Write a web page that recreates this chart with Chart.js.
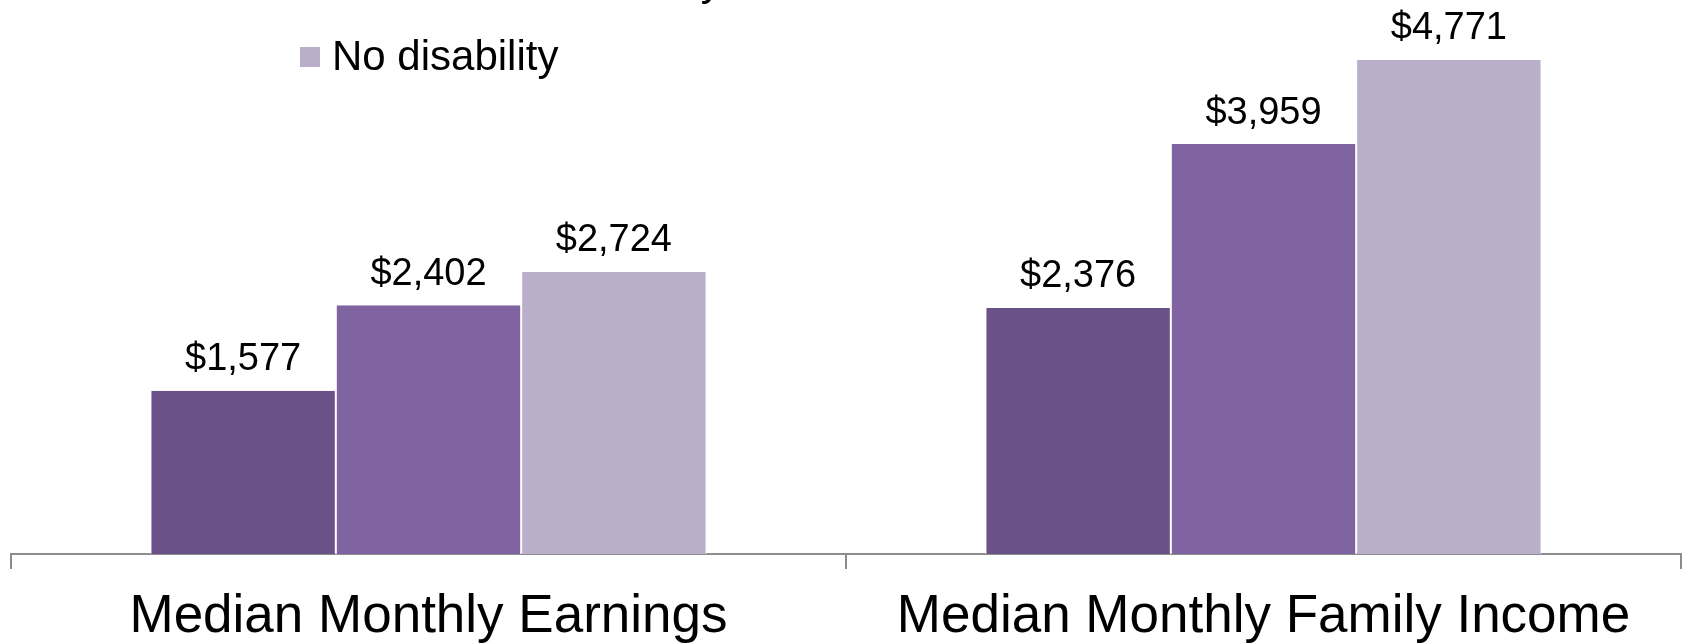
<!DOCTYPE html>
<html>
<head>
<meta charset="utf-8">
<script src="https://cdn.jsdelivr.net/npm/chart.js@4"></script>
<style>
    html, body { margin: 0; padding: 0; background: #ffffff; overflow: hidden; }
    #wrap { position: relative; width: 1683px; height: 644px; overflow: hidden; }
    #incomeChart { display: block; }
</style>
</head>
<body>
<div id="wrap"><canvas id="incomeChart" width="1683" height="648"></canvas></div>
<script>
const categories = ['Median Monthly Earnings', 'Median Monthly Family Income']
const seriesNames = ['Severe disability', 'Non-severe disability', 'No disability']
const severeValues = [1577, 2376]
const nonSevereValues = [2402, 3959]
const noDisabilityValues = [2724, 4771]
const seriesColors = ['#6A5187', '#8064A2', '#B9AFCA']

const FONT = '"Liberation Sans", Arial, sans-serif'

// Value labels above each bar, "$1,577" style
const valueLabels = {
    id: 'valueLabels',
    afterDatasetsDraw(chart) {
        const ctx = chart.ctx
        ctx.save()
        ctx.font = `38px ${FONT}`
        ctx.fillStyle = '#000000'
        ctx.textAlign = 'center'
        ctx.textBaseline = 'middle'
        chart.data.datasets.forEach((dataset, i) => {
            const meta = chart.getDatasetMeta(i)
            meta.data.forEach((bar, j) => {
                const text = '$' + dataset.data[j].toLocaleString('en-US')
                ctx.fillText(text, bar.x, bar.y - 31)
            })
        })
        ctx.restore()
    }
}

// Stacked legend floating over the plot, top items run off the top edge
const floatingLegend = {
    id: 'floatingLegend',
    afterDraw(chart) {
        const ctx = chart.ctx
        const datasets = chart.data.datasets
        ctx.save()
        ctx.font = `42px ${FONT}`
        ctx.textBaseline = 'alphabetic'
        ctx.textAlign = 'left'
        datasets.forEach((dataset, i) => {
            const baseline = 70 - (datasets.length - 1 - i) * 75
            ctx.fillStyle = dataset.backgroundColor
            ctx.fillRect(300, baseline - 23, 20, 20)
            ctx.fillStyle = '#000000'
            ctx.fillText(dataset.label, 332, baseline)
        })
        ctx.restore()
    }
}

const makeDataset = (label, data, color) => ({
    label: label,
    data: data,
    backgroundColor: color,
    borderColor: '#ffffff',
    borderWidth: { left: 1, right: 1, top: 0, bottom: 0 },
    borderSkipped: false,
    categoryPercentage: 0.666,
    barPercentage: 1.0
})

new Chart(document.getElementById('incomeChart'), {
    type: 'bar',
    data: {
        labels: categories,
        datasets: [
            makeDataset(seriesNames[0], severeValues, seriesColors[0]),
            makeDataset(seriesNames[1], nonSevereValues, seriesColors[1]),
            makeDataset(seriesNames[2], noDisabilityValues, seriesColors[2])
        ]
    },
    options: {
        responsive: false,
        animation: false,
        layout: { padding: { left: 11, right: 2, top: 0, bottom: -18 } },
        plugins: {
            legend: { display: false },
            tooltip: { enabled: false },
            title: { display: false }
        },
        scales: {
            x: {
                grid: {
                    offset: true,
                    drawOnChartArea: false,
                    drawTicks: true,
                    tickLength: 15,
                    color: '#8c8c8c',
                    lineWidth: 2
                },
                border: { display: true, color: '#8c8c8c', width: 2 },
                ticks: {
                    color: '#000000',
                    padding: 18,
                    font: { family: FONT, size: 53, lineHeight: 1.15 }
                }
            },
            y: {
                display: false,
                min: 0,
                max: 5350
            }
        }
    },
    plugins: [valueLabels, floatingLegend]
})
</script>
</body>
</html>
